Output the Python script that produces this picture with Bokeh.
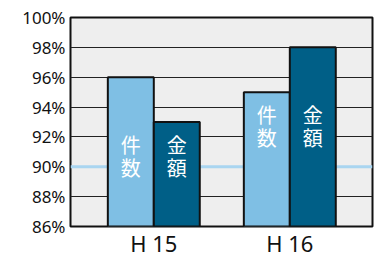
from bokeh.plotting import figure
from bokeh.models import ColumnDataSource, FixedTicker, PrintfTickFormatter, Span
from bokeh.core.properties import value
from bokeh.embed import file_html
from bokeh.resources import INLINE

# data
years = ["H 15", "H 16"]
count_rate = [96, 95]     # 件数
amount_rate = [93, 98]    # 金額
series_names = ["件数", "金額"]
y_ticks = [86, 88, 90, 92, 94, 96, 98, 100]
baseline_ref = 90

LIGHT = "#7fbfe4"
DARK = "#005f87"

group_x = [1, 2]
bw = 0.338
xs_count = [g - bw / 2 for g in group_x]
xs_amount = [g + bw / 2 for g in group_x]

p = figure(width=374, height=260, output_backend="svg", toolbar_location=None,
           x_range=(0.3875, 2.608), y_range=(86, 100),
           min_border_left=70, min_border_right=2, min_border_top=17, min_border_bottom=32)
p.background_fill_color = "#eeeeee"
p.border_fill_color = "white"
p.outline_line_color = "#111111"
p.outline_line_width = 2

# grid
p.xgrid.visible = False
p.ygrid.ticker = FixedTicker(ticks=[t for t in y_ticks if t not in (baseline_ref, y_ticks[0], y_ticks[-1])])
p.ygrid.grid_line_color = "#222222"
p.ygrid.grid_line_width = 1

p.add_layout(Span(location=baseline_ref, dimension="width", line_color="#a9d5f0",
                  line_width=3, level="underlay"))

src = ColumnDataSource(dict(xc=xs_count, xa=xs_amount, c=count_rate, a=amount_rate))
p.vbar(x="xc", top="c", bottom=86, width=bw, source=src, fill_color=LIGHT,
       line_color="#111111", line_width=2)
p.vbar(x="xa", top="a", bottom=86, width=bw, source=src, fill_color=DARK,
       line_color="#111111", line_width=2)

# vertical labels inside bars: one character per line
label_y = [min(c, a) - 2.25 for c, a in zip(count_rate, amount_rate)]
for i, off in enumerate([-11.5, 11.5]):
    lab = ColumnDataSource(dict(
        x=xs_count + xs_amount,
        y=label_y + label_y,
        t=[series_names[0][i]] * 2 + [series_names[1][i]] * 2,
    ))
    p.text(x="x", y="y", text="t", source=lab, text_color="white",
           text_font=value("Noto Sans CJK JP"), text_font_size="20px",
           text_align="center", text_baseline="middle", y_offset=off)

# axes
p.yaxis.ticker = FixedTicker(ticks=y_ticks)
p.yaxis.formatter = PrintfTickFormatter(format="%d%%")
p.yaxis.axis_line_color = None
p.yaxis.major_tick_line_color = None
p.yaxis.minor_tick_line_color = None
p.yaxis.major_tick_out = 0
p.yaxis.major_label_standoff = 5
p.yaxis.major_label_text_font = "Noto Sans"
p.yaxis.major_label_text_font_size = "17px"
p.yaxis.major_label_text_color = "#111111"

p.xaxis.ticker = FixedTicker(ticks=group_x)
p.xaxis.major_label_overrides = {g: y for g, y in zip(group_x, years)}
p.xaxis.axis_line_color = None
p.xaxis.major_tick_line_color = None
p.xaxis.minor_tick_line_color = None
p.xaxis.major_tick_out = 0
p.xaxis.major_label_standoff = 1
p.xaxis.major_label_text_font = "Noto Sans"
p.xaxis.major_label_text_font_size = "22px"
p.xaxis.major_label_text_color = "#111111"

open("out.html", "w").write(file_html(p, INLINE))
